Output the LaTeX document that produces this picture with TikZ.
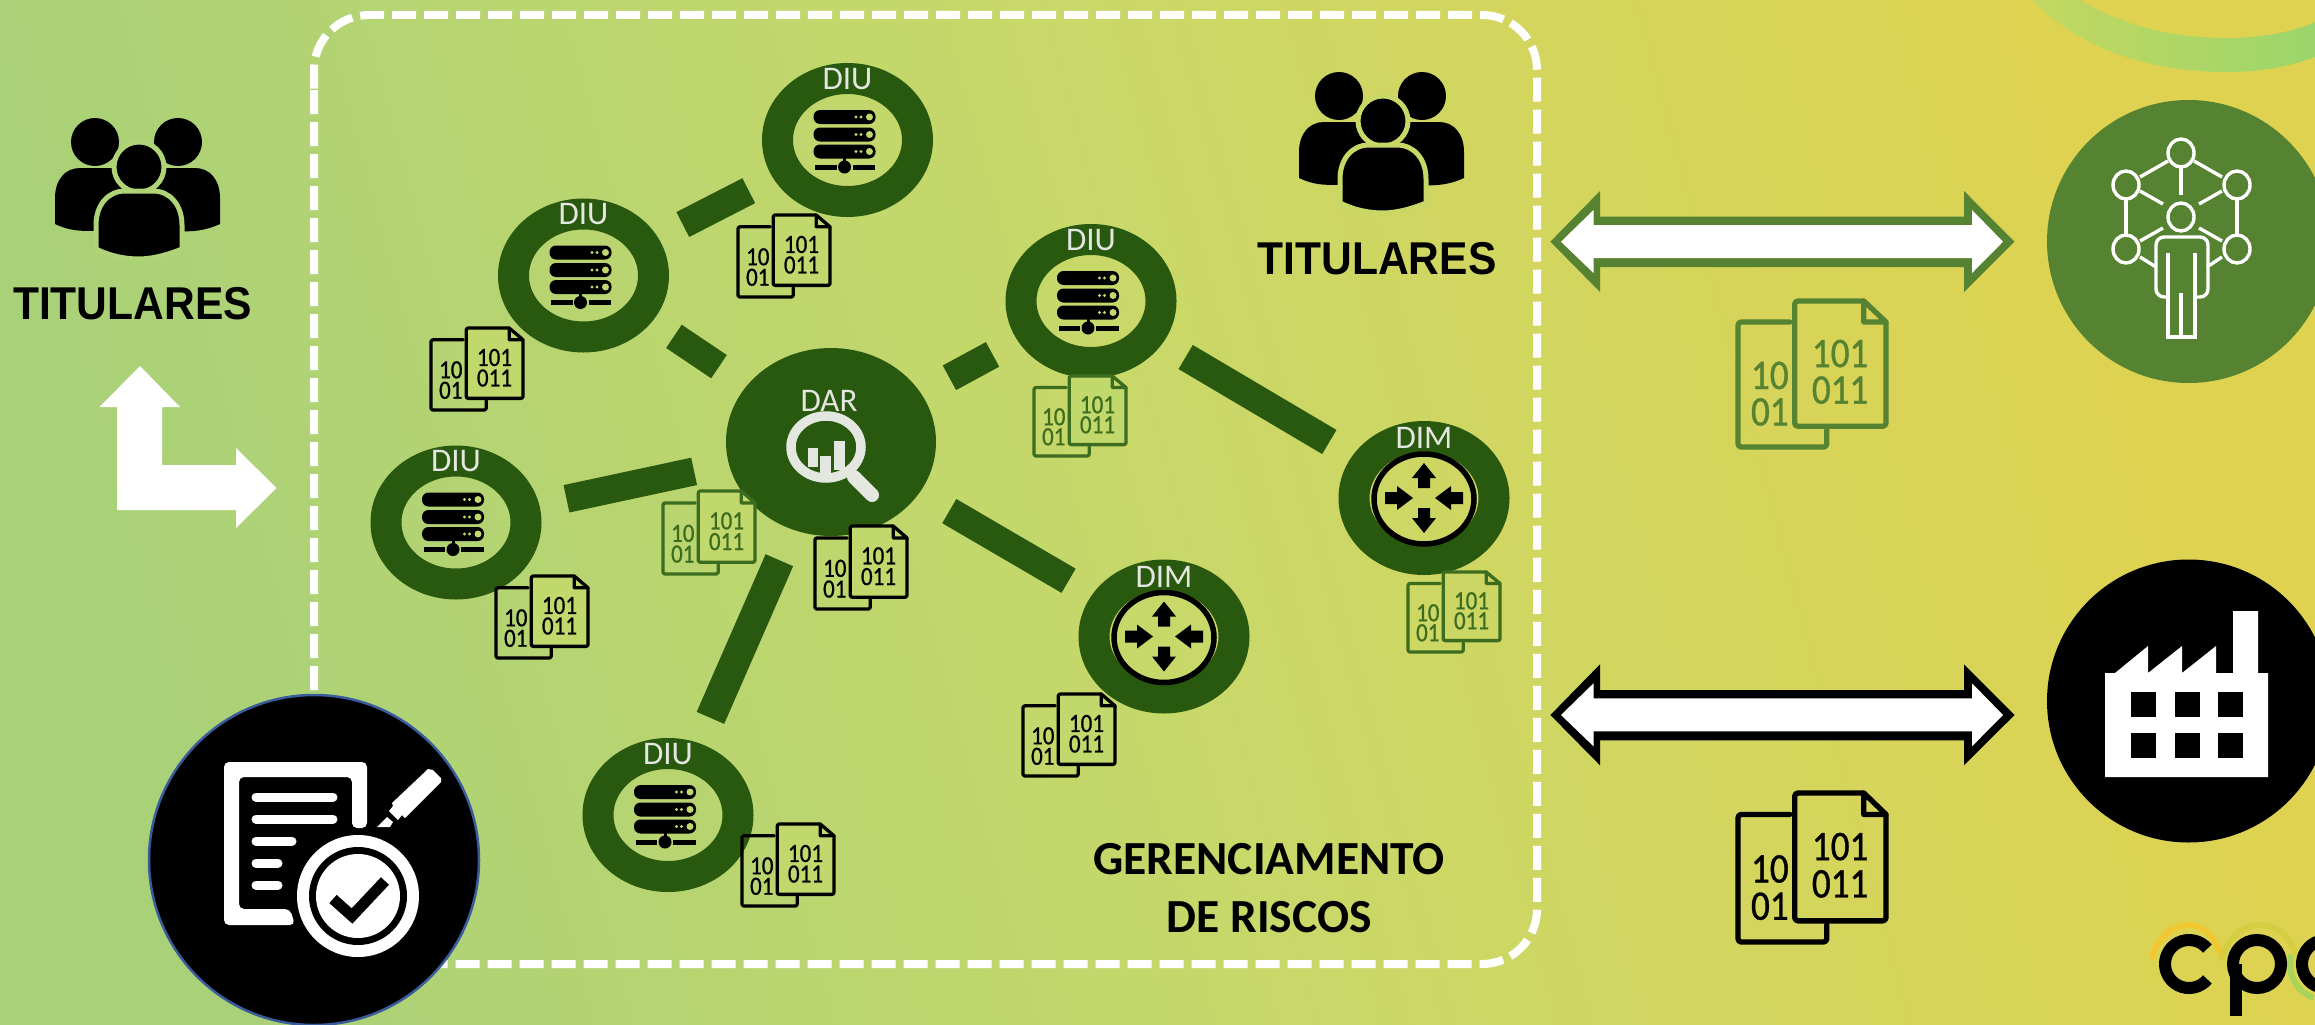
\documentclass[tikz,border=0pt]{standalone}
\usepackage{fontspec}
\usepackage{graphicx}
\setmainfont{Carlito}
\newfontfamily\arialf{Liberation Sans}
\newfontfamily\digitf{Carlito}[FakeStretch=0.88,FakeBold=0.8]
\usetikzlibrary{shapes.geometric}
\definecolor{dkgreen}{HTML}{29590F}
\definecolor{icgreen}{HTML}{3C6C1E}
\definecolor{midgreen}{HTML}{558332}
\definecolor{lab}{HTML}{E4E7E0}
\definecolor{bgmid}{HTML}{C0D86C}
\definecolor{bgleft}{HTML}{A9D178}
\definecolor{bgright}{HTML}{DFD250}
\definecolor{bgcentre}{HTML}{C8D869}
\definecolor{halotwo}{HTML}{C9D766}
\definecolor{haloone}{HTML}{AFD376}
\definecolor{swooshl}{HTML}{C4D860}
\definecolor{swooshr}{HTML}{9BD56B}
\definecolor{logoyellow}{HTML}{F2C832}
\definecolor{logogreen}{HTML}{A9D45A}
\definecolor{badgeblue}{HTML}{3A5C9C}
\definecolor{iconbgr}{HTML}{CCD664}
\tikzset{
  x=1pt,y=-1pt,
  ringnode/.style={ellipse,draw=dkgreen,line width=31pt,minimum width=140pt,minimum height=123pt,inner sep=0pt,outer sep=0pt},
  darnode/.style={ellipse,fill=dkgreen,minimum width=210pt,minimum height=188pt,inner sep=0pt,outer sep=0pt},
  barlink/.style={draw=dkgreen,line width=28pt},
  ringlabel/.style={text=lab,inner sep=0pt,font=\fontsize{33}{33}\selectfont},
  titlabel/.style={inner sep=0pt,text=black},
  srvbar/.style={fill=black,rounded corners=6.5pt},
  bigcircle/.style={circle,minimum size=283pt,inner sep=0pt,outer sep=0pt},
  netline/.style={draw=white,line width=3.4pt},
  whitebar/.style={draw=white,line width=9pt,line cap=round},
  logostroke/.style={draw=black,line width=12pt},
}
\newcommand\binicon[7]{% name,x0,y0,w,h,color,fill
  \pgfmathsetmacro\fsz{.285*#4}\pgfmathsetmacro\lsz{.25*#5}\pgfmathsetmacro\lwd{#4*.036}\pgfmathsetmacro\rcr{#4*.022}
  \begin{scope}[shift={(#2,#3)},x=#4pt,y=-#5pt,line width=\lwd pt,draw=#6,text=#6,line join=round,line cap=round]
    \draw[rounded corners=\rcr pt] (.35,.144) -- (0,.144) -- (0,1) -- (.6,1) -- (.6,.884);
    \draw[fill=#7,rounded corners=\rcr pt] (.85,0) -- (.383,0) -- (.383,.858) -- (1,.858) -- (1,.144);
    \draw[fill=#7] (.85,0) -- (1,.144) -- (.85,.144) -- cycle;
    \node[inner sep=0pt,align=center,font=\fontsize{\fsz}{\lsz}\selectfont\digitf] (#1a) at (.69,.485) {101\\011};
    \node[inner sep=0pt,align=center,font=\fontsize{\fsz}{\lsz}\selectfont\digitf] (#1b) at (.215,.635) {10\\01};
  \end{scope}}
\newcommand\srvicon[2]{%
  \begin{scope}[shift={(#1,#2)}]
    \foreach \yy in {-30,-12.5,4.5}{
      \fill[srvbar] (-34,\yy) rectangle (28,\yy+14);
      \fill[bgmid] (22,\yy+7) circle[radius=3.5];
      \fill[bgmid] (13.5,\yy+7) circle[radius=1.6];
      \fill[bgmid] (8.5,\yy+7) circle[radius=1.6];
    }
    \fill[black] (-4.5,18) rectangle (-1.5,25);
    \fill[black] (-3,27) circle[radius=6.5];
    \fill[black] (-32.5,24.5) rectangle (-11,29.5);
    \fill[black] (5,24.5) rectangle (27.5,29.5);
  \end{scope}}
\newcommand\diunode[3]{%
  \node[ringnode] (#1) at (#2,#3) {};
  \begin{scope}[shift={(#2,#3)}]
    \node[ringlabel] (#1lab) at (0,-61) {DIU};
  \end{scope}
  \srvicon{#2}{#3}}
\newcommand\dimnode[3]{%
  \node[ringnode] (#1) at (#2,#3) {};
  \begin{scope}[shift={(#2,#3)}]
    \node[ringlabel] (#1lab) at (0,-60) {DIM};
    \draw[black,line width=5.5pt] (0,1) ellipse[x radius=50,y radius=45];
    \fill[black] (0,-35) -- (12,-20) -- (6,-20) -- (6,-10) -- (-6,-10) -- (-6,-20) -- (-12,-20) -- cycle;
    \fill[black] (0,35) -- (12,20) -- (6,20) -- (6,10) -- (-6,10) -- (-6,20) -- (-12,20) -- cycle;
    \fill[black] (-11,0) -- (-27,-12) -- (-27,-6) -- (-39,-6) -- (-39,6) -- (-27,6) -- (-27,12) -- cycle;
    \fill[black] (11,0) -- (27,-12) -- (27,-6) -- (39,-6) -- (39,6) -- (27,6) -- (27,12) -- cycle;
  \end{scope}}
\newcommand\peopleicon[3]{% x offset, y offset, halo colour
  \begin{scope}[shift={(#1,#2)}]
    \fill[black] (95,142) ellipse[x radius=24,y radius=24];
    \fill[black] (178,142) ellipse[x radius=24,y radius=24];
    \fill[black] (55,224) -- (55,198) .. controls (55,180) and (65,168) .. (80,168) -- (195,168) .. controls (210,168) and (220,180) .. (220,198) -- (220,224) .. controls (205,231) and (190,232) .. (180,231) -- (95,231) .. controls (80,231) and (70,231) .. (55,224) -- cycle;
    \draw[#3,line width=5pt,fill=black] (139,167) ellipse[x radius=25,y radius=25];
    \draw[#3,line width=5pt,fill=black] (96,249) -- (96,225) .. controls (96,205) and (108,191) .. (125,191) -- (153,191) .. controls (170,191) and (182,205) .. (182,225) -- (182,249) .. controls (165,256) and (150,259) .. (139,259) .. controls (125,259) and (110,256) .. (96,249) -- cycle;
  \end{scope}}
\newcommand\dblarrow[2]{%
  \begin{scope}[shift={(0,#1)}]
    \fill[#2] (1550.4,241.7) -- (1600,191) -- (1600,216.7) -- (1964,216.7) -- (1964,191) -- (2014.5,241.7) -- (1964,292) -- (1964,267) -- (1600,267) -- (1600,292) -- cycle;
    \fill[white] (1561,241.7) -- (1593.5,210) -- (1593.5,225) -- (1972,225) -- (1972,210) -- (2003,241.7) -- (1972,273) -- (1972,258) -- (1593.5,258) -- (1593.5,273) -- cycle;
  \end{scope}}
\begin{document}
\begin{tikzpicture}
\useasboundingbox (0,0) rectangle (2315,1025);
\clip (0,0) rectangle (2315,1025);
% background
\shade[left color=bgleft,right color=bgright,middle color=bgcentre,shading angle=105] (0,0) rectangle (2315,1025);
% swoosh top right
\shade[left color=swooshl,right color=swooshr] (2030,-2) .. controls (2080,50) and (2150,72) .. (2228,72) .. controls (2265,72) and (2295,65) .. (2320,55) -- (2320,20) .. controls (2295,32) and (2260,38) .. (2228,38) .. controls (2170,38) and (2120,25) .. (2077,-2) -- cycle;
% dashed risk-management frame
\draw[white,line width=8pt,dash pattern=on 24pt off 8pt,rounded corners=55pt] (314,90) -- (314,964) -- (1537,964) -- (1537,15) -- (314,15) -- (314,89);
% nodes
\node[darnode] (dar) at (831,442) {};
\diunode{diua}{847.5}{140}
\diunode{diub}{583.5}{275.5}
\diunode{diuc}{456}{522.5}
\diunode{diud}{668}{815}
\diunode{diue}{1091}{301}
\dimnode{dima}{1164}{636.5}
\dimnode{dimb}{1424}{498}
% links
\draw[barlink,shorten <=111.6pt,shorten >=111pt] (diub.center) -- (diua.center);
\draw[barlink,shorten <=109pt,shorten >=135pt] (diub.center) -- (dar.center);
\draw[barlink,shorten <=113pt,shorten >=140pt] (diuc.center) -- (dar.center);
\draw[barlink,shorten <=134.7pt,shorten >=112pt] (dar.center) -- (diue.center);
\draw[barlink,shorten <=110pt,shorten >=110pt] (diue.center) -- (dimb.center);
\draw[barlink,shorten <=137pt,shorten >=110.5pt] (dar.center) -- (dima.center);
\draw[barlink,line width=30pt,shorten <=129pt,shorten >=106pt] (dar.center) -- (diud.center);
% DAR contents
\node[ringlabel] (darlab) at (829,401) {DAR};
\draw[lab,line width=14pt,line cap=round] (854,477) -- (872,495);
\draw[lab,line width=9.5pt,fill=dkgreen] (826,447) ellipse[x radius=35,y radius=31];
\fill[lab] (808,448) rectangle (818,467);
\fill[lab] (820,456) rectangle (831,473);
\fill[lab] (834,441) rectangle (845,470);
% data icons
\binicon{bina}{738}{215}{92}{82}{black}{bgmid}
\binicon{binb}{431}{328}{92}{82}{black}{bgmid}
\binicon{binc}{496}{576}{92}{82}{black}{bgmid}
\binicon{bind}{663}{491}{92}{83}{icgreen}{bgmid}
\binicon{bine}{815}{526}{92}{83}{black}{bgmid}
\binicon{binf}{1034}{376}{92}{80}{icgreen}{bgmid}
\binicon{bing}{1408}{572}{92}{80}{icgreen}{iconbgr}
\binicon{binh}{1023}{694}{92}{82}{black}{bgmid}
\binicon{bini}{742}{824}{92}{82}{black}{bgmid}
\binicon{binj}{1738}{301}{148}{146}{midgreen}{none}
\binicon{bink}{1738}{793}{148}{149}{black}{none}
% people and titles
\peopleicon{0}{0}{haloone}
\peopleicon{1244}{-46}{halotwo}
\node[titlabel] (tita) at (132.5,304) {\fontsize{46}{46}\selectfont\arialf\bfseries\scalebox{.925}[1]{TITULARES}};
\node[titlabel] (titb) at (1377,258.5) {\fontsize{46}{46}\selectfont\arialf\bfseries\scalebox{.925}[1]{TITULARES}};
\node[inner sep=0pt,align=center,font=\fontsize{47.5}{58}\selectfont\bfseries] (risk) at (1269,888) {GERENCIAMENTO\\DE RISCOS};
% white L arrow
\fill[white] (140,366) -- (180,407) -- (162,407) -- (162,465) -- (236,465) -- (236,448) -- (276.5,488) -- (236,528) -- (236,510) -- (117,510) -- (117,407) -- (99.5,407) -- cycle;
% audit badge
\node[circle,fill=black,draw=badgeblue,line width=2.5pt,minimum size=330pt,inner sep=0pt] (badge) at (314,860) {};
\fill[white,rounded corners=5pt] (224,762) -- (367,762) -- (367,828) -- (352,828) -- (352,777) -- (239,777) -- (239,909) -- (290,909) -- (295,925) -- (224,925) -- cycle;
\draw[whitebar] (256,797) -- (333,797);
\draw[whitebar] (256,819) -- (333,819);
\draw[whitebar] (256,841) -- (292,841);
\draw[whitebar] (256,863) -- (278,863);
\draw[whitebar] (256,885) -- (278,885);
\fill[black] (358,896) circle[radius=65];
\fill[white] (358,896) circle[radius=61];
\fill[black] (358,896) circle[radius=49];
\fill[white] (358,896) circle[radius=42];
\draw[black,line width=11pt] (333,899) -- (352,916) -- (385,881);
\fill[white] (428,769) -- (433,770) -- (441,778) -- (441,782) -- (405,818) -- (402,815) -- (398,820) -- (389,811) -- (393,806) -- (392,803) -- cycle;
\fill[white] (377,827) -- (387,817) -- (393,822) -- (390,827) -- cycle;
% network circle
\node[bigcircle,fill=midgreen] (net) at (2188.5,241.5) {};
\draw[netline] (2181,153) ellipse[x radius=13,y radius=14];
\draw[netline] (2126,185) ellipse[x radius=13,y radius=14];
\draw[netline] (2237,185) ellipse[x radius=13,y radius=14];
\draw[netline] (2181,217) ellipse[x radius=13,y radius=14];
\draw[netline] (2126,249) ellipse[x radius=13,y radius=14];
\draw[netline] (2237,249) ellipse[x radius=13,y radius=14];
\draw[netline] (2140,177) -- (2168,161);
\draw[netline] (2222,177) -- (2194,161);
\draw[netline] (2181,168) -- (2181,195);
\draw[netline] (2140,191) -- (2163,204);
\draw[netline] (2222,191) -- (2199,204);
\draw[netline] (2126,199) -- (2126,235);
\draw[netline] (2237,199) -- (2237,235);
\draw[netline] (2140,241) -- (2163,228);
\draw[netline] (2222,241) -- (2199,228);
\draw[netline] (2140,257) -- (2156,267);
\draw[netline] (2222,257) -- (2207,267);
\draw[netline,rounded corners=8pt] (2168,297) -- (2156,297) -- (2156,237) -- (2208,237) -- (2208,297) -- (2195,297);
\draw[netline] (2168,253) -- (2168,337) -- (2195,337) -- (2195,253);
\draw[netline] (2181,293) -- (2181,337);
% factory circle
\node[bigcircle,fill=black] (fac) at (2188.5,701) {};
\fill[white] (2105,777) -- (2105,673) -- (2115,673) -- (2148,646) -- (2148,673) -- (2182,646) -- (2182,673) -- (2216,646) -- (2216,673) -- (2233,673) -- (2233,611) -- (2258,611) -- (2258,673) -- (2268,673) -- (2268,777) -- cycle;
\foreach \yy in {692,733}{\foreach \xx in {2131,2175,2218}{\fill[black] (\xx,\yy) rectangle (\xx+25,\yy+25);}}
% double arrows
\dblarrow{0}{midgreen}
\dblarrow{473.3}{black}
% logo
\draw[logoyellow,line width=6pt,line cap=round] (2152,957) .. controls (2158,935) and (2175,925) .. (2189,925) .. controls (2205,925) and (2217,940) .. (2222,958);
\draw[logoyellow!60!logogreen,line width=6pt,line cap=round] (2222,958) .. controls (2227,940) and (2242,925) .. (2259,925) .. controls (2275,925) and (2290,935) .. (2295,953);
\draw[logogreen,line width=6pt] plot[smooth,domain=165:250] ({2326+36*cos(\x)},{964-36*sin(\x)});
\draw[logostroke] plot[smooth,domain=40:320,samples=30] ({2189+24*cos(\x)},{964-24*sin(\x)});
\draw[logostroke] (2257,964) ellipse[x radius=24,y radius=24];
\draw[logostroke] (2235.5,964) -- (2235.5,1016);
\draw[logostroke] plot[smooth,domain=40:320,samples=30] ({2326+24*cos(\x)},{964-24*sin(\x)});
\end{tikzpicture}
\end{document}
